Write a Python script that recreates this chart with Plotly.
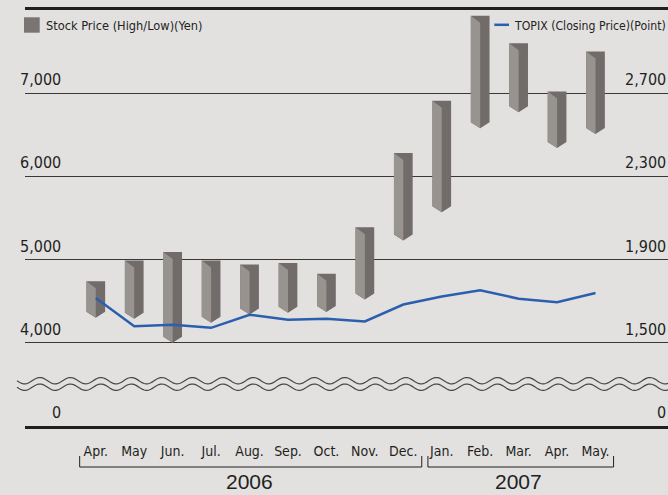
import numpy as np
import plotly.graph_objects as go

# ---------------- data ----------------
months = ["Apr.", "May", "Jun.", "Jul.", "Aug.", "Sep.", "Oct.", "Nov.", "Dec.",
          "Jan.", "Feb.", "Mar.", "Apr.", "May."]
years = ["2006"] * 9 + ["2007"] * 5
stock_high = [4740, 4990, 5090, 4990, 4940, 4960, 4830, 5390, 6280, 6910, 7930, 7600, 7020, 7500]
stock_low = [4300, 4290, 4000, 4240, 4340, 4360, 4370, 4520, 5230, 5570, 6580, 6770, 6340, 6510]
topix_close = [1715, 1580, 1587, 1572, 1635, 1611, 1616, 1603, 1684, 1723, 1752, 1712, 1695, 1739]
left_ticks = [4000, 5000, 6000, 7000]
right_ticks = [1500, 1900, 2300, 2700]
left_labels = ["4,000", "5,000", "6,000", "7,000"]
right_labels = ["1,500", "1,900", "2,300", "2,700"]
legend_stock = "Stock Price (High/Low)(Yen)"
legend_topix = "TOPIX (Closing Price)(Point)"

# ---------------- layout constants ----------------
W, H = 668, 495
ML, MR, MT, MB = 25, 0, 10, 69
PW, PH = W - ML - MR, H - MT - MB
X_RANGE = [-1.842, 14.886]
Y_RANGE = [3000, 8000]
Y2_RANGE = [1100, 3100]

NARROW = "DejaVu Sans Condensed, Liberation Sans Narrow, Arial Narrow, sans-serif"
REG = "Liberation Sans, Arial, sans-serif"
INK = "#231f20"
BG = "#e2e1e0"
LIGHT = "#97938f"
DARK = "#716b6a"
BLUE = "#2b5fae"

x_per_px = (X_RANGE[1] - X_RANGE[0]) / PW
y_per_px = (Y_RANGE[1] - Y_RANGE[0]) / PH


def px_x(px):
    return (px - ML) / PW


def px_y(py):
    return (MT + PH - py) / PH


def data_x_to_paper(x):
    return (x - X_RANGE[0]) / (X_RANGE[1] - X_RANGE[0])


idx = list(range(len(months)))

# ---------------- bar prisms ----------------
hw = 9.35 * x_per_px      # half width
bevel = 7 * y_per_px       # top bevel depth
vdep = 6 * y_per_px        # bottom point depth
dx, dy, lx, ly = [], [], [], []
for i, hi, lo in zip(idx, stock_high, stock_low):
    dx += [i - hw, i + hw, i + hw, i, i - hw, i - hw, None]
    dy += [hi, hi, lo + vdep, lo, lo + vdep, hi, None]
    lx += [i - hw, i, i, i - hw, i - hw, None]
    ly += [hi, hi - bevel, lo, lo + vdep, hi, None]

fig = go.Figure()
fig.add_trace(go.Scatter(x=dx, y=dy, fill="toself", fillcolor=DARK, mode="lines",
                         line=dict(width=0, color=DARK), hoverinfo="skip", showlegend=False))
fig.add_trace(go.Scatter(x=lx, y=ly, fill="toself", fillcolor=LIGHT, mode="lines",
                         line=dict(width=0, color=LIGHT), hoverinfo="skip", showlegend=False))
fig.add_trace(go.Scatter(x=idx, y=topix_close, yaxis="y2", mode="lines",
                         line=dict(color=BLUE, width=2.5), showlegend=False))

# ---------------- decorations ----------------
shapes = []
annotations = []
TICKFONT = dict(family=NARROW, size=16, color=INK)

# axis tick labels (above the gridlines)
for v, t in zip(left_ticks, left_labels):
    annotations.append(dict(x=px_x(63), y=v, xref="paper", yref="y", text=t,
                            xanchor="right", yanchor="bottom", yshift=2, showarrow=False,
                            font=TICKFONT))
for v, t in zip(right_ticks, right_labels):
    annotations.append(dict(x=1, y=v, xref="paper", yref="y2", text=t,
                            xanchor="right", yanchor="bottom", yshift=2, showarrow=False,
                            font=TICKFONT))
for xp in (px_x(63), 1):
    annotations.append(dict(x=xp, y=0, xref="paper", yref="paper", text="0",
                            xanchor="right", yanchor="bottom", yshift=2, showarrow=False,
                            font=TICKFONT))

# axis break waves
wx = np.linspace(17, 668, 400)
for yc in (380.7, 387.2):
    wy = yc + 3.2 * np.sin(2 * np.pi * (wx - 17) / 30.5)
    path = "M " + " L ".join(f"{px_x(a):.5f},{px_y(b):.5f}" for a, b in zip(wx, wy))
    shapes.append(dict(type="path", path=path, xref="paper", yref="paper",
                       line=dict(color="#4a4646", width=1.2)))

# year brackets and labels
for yr, lpad, rpad in (("2006", 0.42, 0.48), ("2007", 0.36, 0.47)):
    members = [i for i, y in zip(idx, years) if y == yr]
    x0 = data_x_to_paper(members[0] - lpad)
    x1 = data_x_to_paper(members[-1] + rpad)
    path = f"M {x0},{px_y(456)} L {x0},{px_y(467)} L {x1},{px_y(467)} L {x1},{px_y(456)}"
    shapes.append(dict(type="path", path=path, xref="paper", yref="paper",
                       line=dict(color=INK, width=1)))
    annotations.append(dict(x=(members[0] + members[-1]) / 2, y=px_y(495), xref="x", yref="paper",
                            text=yr, showarrow=False, xanchor="center", yanchor="bottom",
                            font=dict(family=REG, size=21, color=INK)))

# legends
shapes.append(dict(type="rect", xref="paper", yref="paper",
                   x0=px_x(24), x1=px_x(39.7), y0=px_y(32.7), y1=px_y(17.3),
                   fillcolor="#7a7472", line=dict(width=0)))
annotations.append(dict(x=px_x(44), y=px_y(25.5), xref="paper", yref="paper", text=legend_stock,
                        showarrow=False, xanchor="left", yanchor="middle",
                        font=dict(family=NARROW, size=12.7, color=INK)))
shapes.append(dict(type="line", xref="paper", yref="paper",
                   x0=px_x(494.3), x1=px_x(509), y0=px_y(24.8), y1=px_y(24.8),
                   line=dict(color=BLUE, width=2.5)))
annotations.append(dict(x=1, y=px_y(25.5), xref="paper", yref="paper", text=legend_topix,
                        showarrow=False, xanchor="right", yanchor="middle",
                        font=dict(family=NARROW, size=12.2, color=INK)))

fig.update_layout(
    width=W, height=H,
    margin=dict(l=ML, r=MR, t=MT, b=MB, pad=0),
    paper_bgcolor=BG, plot_bgcolor=BG,
    showlegend=False,
    xaxis=dict(range=X_RANGE, tickmode="array", tickvals=idx, ticktext=months,
               showgrid=False, zeroline=False, showline=True, mirror=True,
               linecolor=INK, linewidth=2.5, ticks="outside", ticklen=10,
               tickcolor="rgba(0,0,0,0)",
               tickfont=dict(family=NARROW, size=14, color=INK), fixedrange=True),
    yaxis=dict(range=Y_RANGE, tickmode="array", tickvals=left_ticks, showticklabels=False,
               showgrid=True, gridcolor="#3a3737", gridwidth=1.2, zeroline=False,
               showline=False, ticks="", fixedrange=True),
    yaxis2=dict(range=Y2_RANGE, overlaying="y", side="right", showgrid=False,
                showticklabels=False, zeroline=False, showline=False, ticks="", fixedrange=True),
    shapes=shapes,
    annotations=annotations,
)

fig.write_html("out.html")
